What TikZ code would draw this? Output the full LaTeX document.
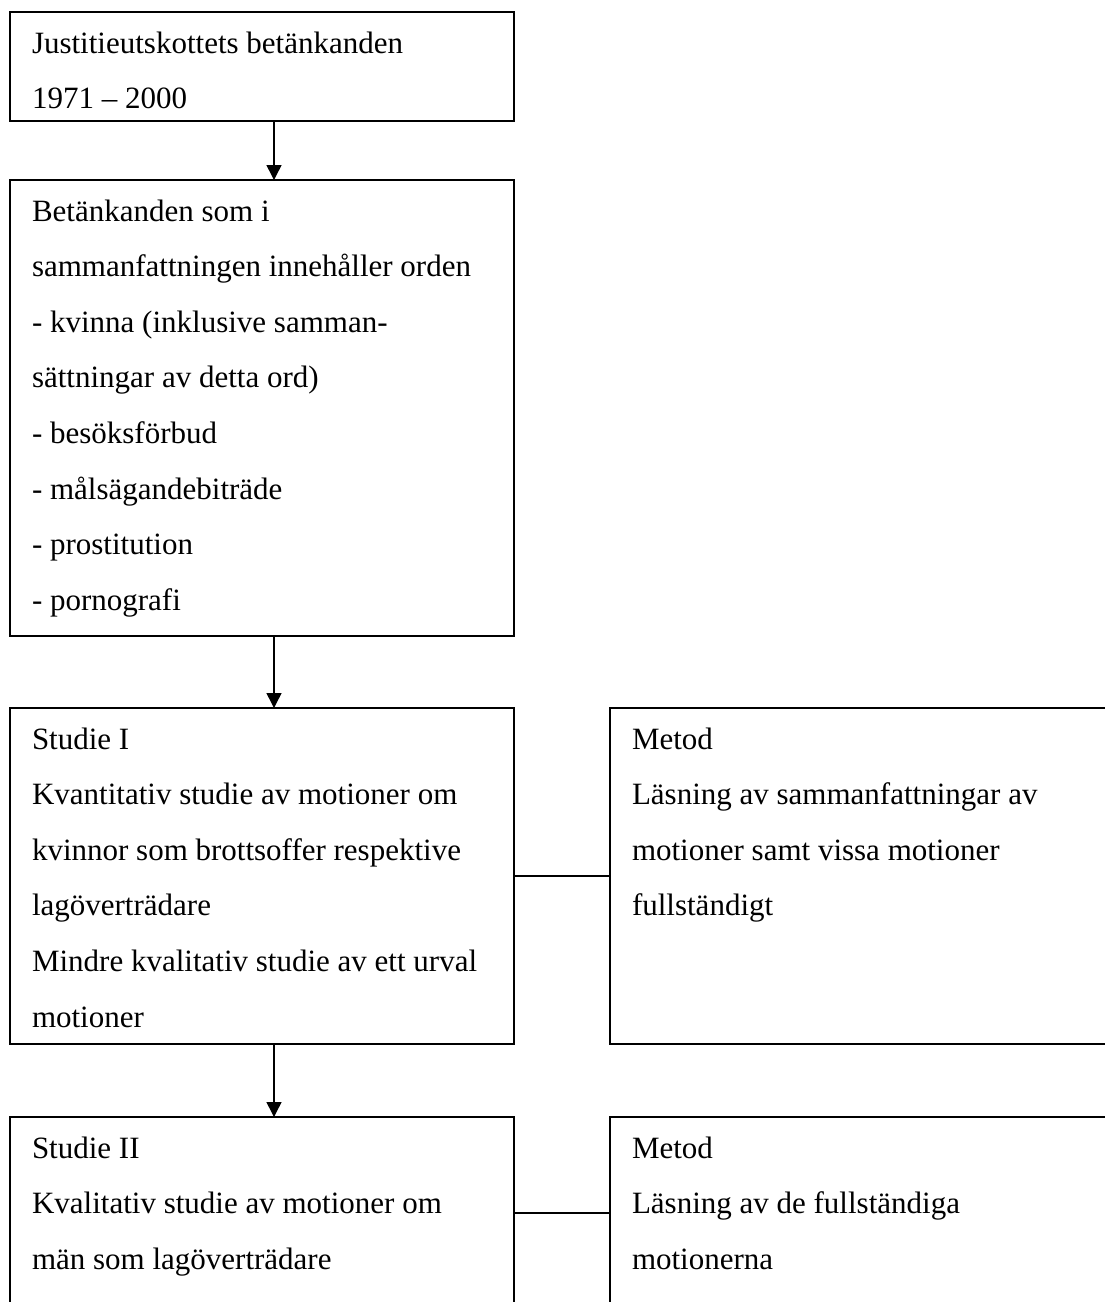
\documentclass[tikz,border=0pt]{standalone}
\usepackage{fontspec}
\setmainfont{Liberation Serif}
\usetikzlibrary{arrows.meta}
\newcommand{\boxtext}[3]{\parbox[t][#1][t]{#2}{\raggedright\fontsize{31pt}{55.6pt}\selectfont\rule{0pt}{41pt}#3}}
\tikzset{
  frame/.style={draw, line width=1.5pt, inner xsep=22pt, inner ysep=0pt, anchor=north west, outer sep=0pt},
  link/.style={line width=1.5pt},
  flow/.style={line width=1.5pt, -{Triangle[length=15pt,width=15pt]}}
}
\begin{document}
\begin{tikzpicture}[x=1pt,y=-1pt]
\useasboundingbox (0,0) rectangle (1105,1302);
\node[frame] (b1) at (10,12) {\boxtext{109pt}{460pt}{Justitieutskottets betänkanden\\1971 – 2000}};
\node[frame] (b2) at (10,180) {\boxtext{456pt}{460pt}{Betänkanden som i\\sammanfattningen innehåller orden\\- kvinna (inklusive samman-\\sättningar av detta ord)\\- besöksförbud\\- målsägandebiträde\\- prostitution\\- pornografi}};
\node[frame] (s1) at (10,708) {\boxtext{336pt}{460pt}{Studie I\\Kvantitativ studie av motioner om\\kvinnor som brottsoffer respektive\\lagöverträdare\\Mindre kvalitativ studie av ett urval\\motioner}};
\node[frame] (m1) at (610,708) {\boxtext{336pt}{476pt}{Metod\\Läsning av sammanfattningar av\\motioner samt vissa motioner\\fullständigt}};
\node[frame] (s2) at (10,1117) {\boxtext{192pt}{460pt}{Studie II\\Kvalitativ studie av motioner om\\män som lagöverträdare}};
\node[frame] (m2) at (610,1117) {\boxtext{192pt}{476pt}{Metod\\Läsning av de fullständiga\\motionerna}};
\coordinate (ax) at (274,0);
\draw[flow] (b1.south -| ax) -- (b2.north -| ax);
\draw[flow] (b2.south -| ax) -- (s1.north -| ax);
\draw[flow] (s1.south -| ax) -- (s2.north -| ax);
\draw[link] (s1.east) -- (m1.west);
\draw[link] (s2.east) -- (m2.west);
\end{tikzpicture}
\end{document}
